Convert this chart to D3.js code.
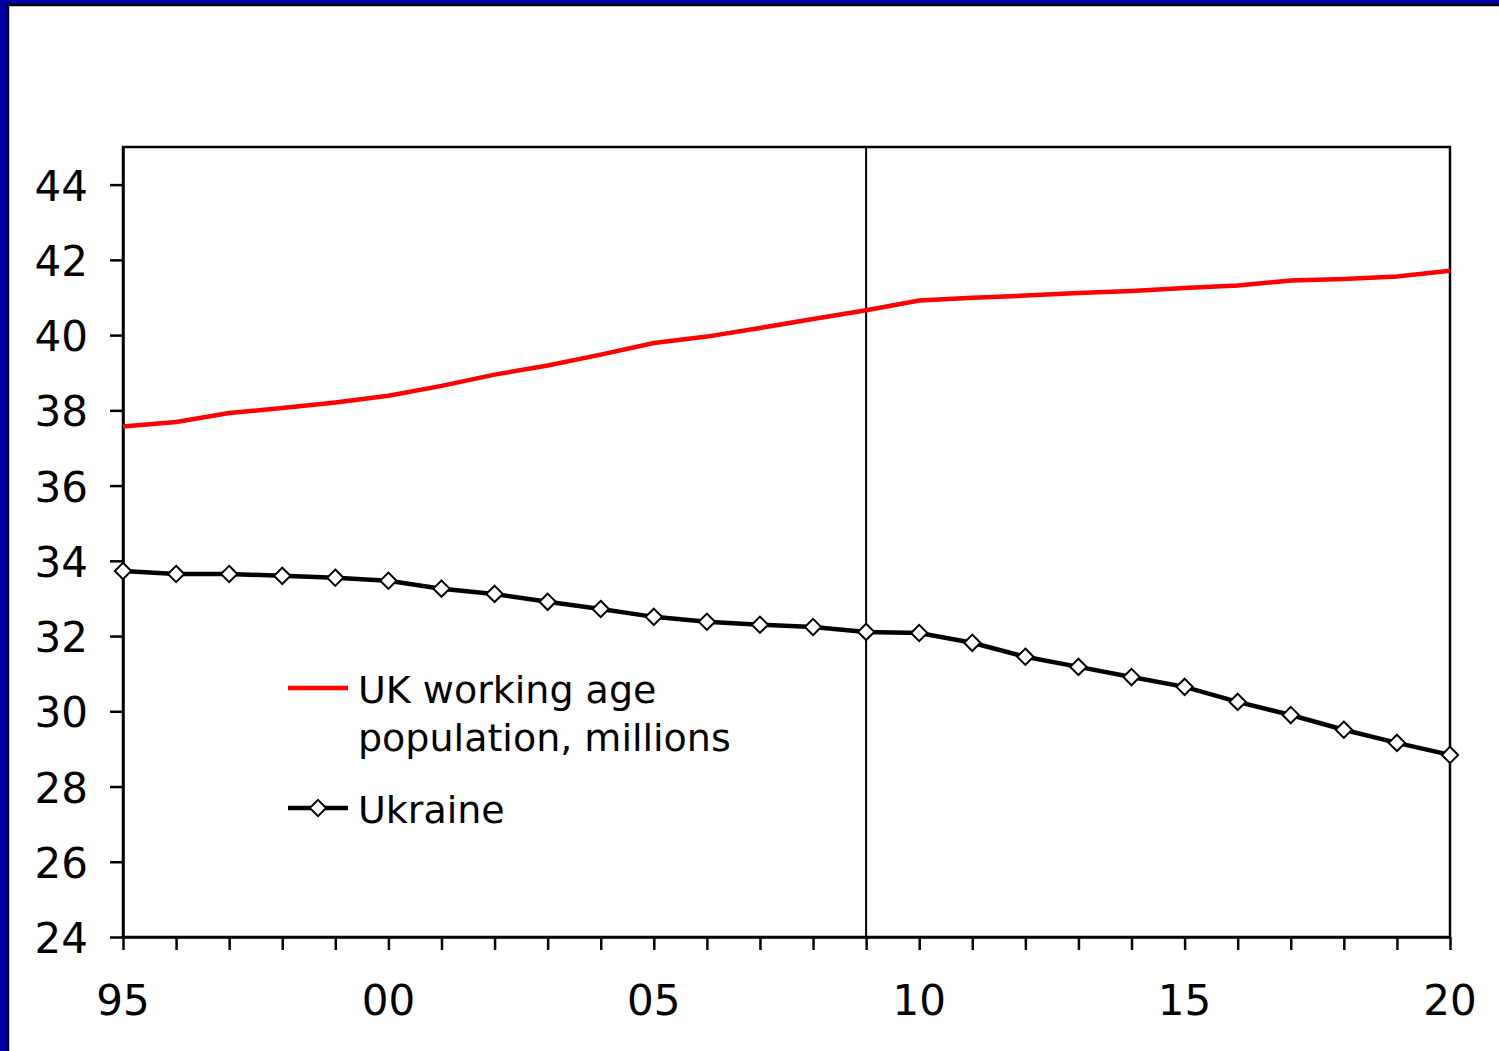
<!doctype html>
<html>
<head>
	<script src="https://d3js.org/d3.v7.min.js"></script>
	<style>
		body { margin: 0; background: #fff; }
		svg text { font-family: "DejaVu Sans", sans-serif; fill: #000; }
	</style>
</head>
<body>
	<svg id="chart" width="1499" height="1051"></svg>
	<script>

		var years = d3.range(1995, 2021);
		var tickLabels = ["95", "00", "05", "10", "15", "20"];
		var yTicks = [24, 26, 28, 30, 32, 34, 36, 38, 40, 42, 44];

		var ukWorking = [37.57, 37.69, 37.93, 38.06, 38.21, 38.39, 38.65, 38.95, 39.19, 39.48,
		                 39.79, 39.96, 40.19, 40.43, 40.66, 40.92, 40.99, 41.05, 41.12, 41.17,
		                 41.25, 41.32, 41.45, 41.49, 41.56, 41.71];
		var ukraine = [33.73, 33.65, 33.65, 33.60, 33.55, 33.47, 33.26, 33.12, 32.91, 32.72,
		               32.51, 32.38, 32.30, 32.24, 32.11, 32.08, 31.82, 31.45, 31.18, 30.91,
		               30.65, 30.25, 29.90, 29.51, 29.16, 28.84];
		var markerYear = 2009;

		var svg = d3.select("#chart");

		// slide frame
		svg.append("rect").attr("x", 0).attr("y", 0).attr("width", 1499).attr("height", 1051)
			.attr("fill", "#0000a0");
		svg.append("rect").attr("x", 8).attr("y", 5).attr("width", 1520).attr("height", 1080)
			.attr("fill", "#fff").attr("stroke", "#000").attr("stroke-width", 2.5);

		var margin = {top: 147, right: 49, bottom: 114, left: 123};
		var width = 1499 - margin.left - margin.right;
		var height = 1051 - margin.top - margin.bottom;

		var xScale = d3.scaleLinear().domain([1995, 2020]).range([margin.left, margin.left + width]);
		var yScale = d3.scaleLinear().domain([24, 45]).range([margin.top + height, margin.top]);

		// plot frame
		svg.append("rect")
			.attr("x", margin.left).attr("y", margin.top)
			.attr("width", width).attr("height", height)
			.attr("fill", "none").attr("stroke", "#000").attr("stroke-width", 2.5);

		// axes
		var xAxis = d3.axisBottom(xScale).tickValues(years).tickSize(13).tickSizeOuter(0).tickFormat("");
		var yAxis = d3.axisLeft(yScale).tickValues(yTicks).tickSize(13).tickSizeOuter(0).tickFormat("");

		var xg = svg.append("g").attr("transform", "translate(0," + (margin.top + height) + ")").call(xAxis);
		var yg = svg.append("g").attr("transform", "translate(" + margin.left + ",0)").call(yAxis);
		[xg, yg].forEach(g => {
			g.select(".domain").attr("stroke", "#000").attr("stroke-width", 2.5);
			g.selectAll(".tick line").attr("stroke", "#000").attr("stroke-width", 2.5);
		});

		svg.append("g").selectAll("text")
			.data(tickLabels)
			.enter().append("text")
				.attr("x", (d, i) => xScale(1995 + i * 5))
				.attr("y", 1015)
				.attr("text-anchor", "middle")
				.attr("font-size", 42)
				.text(d => d);

		svg.append("g").selectAll("text")
			.data(yTicks)
			.enter().append("text")
				.attr("x", 88)
				.attr("y", d => yScale(d) + 16)
				.attr("text-anchor", "end")
				.attr("font-size", 42)
				.text(d => d);

		// vertical marker line
		svg.append("line")
			.attr("x1", xScale(markerYear)).attr("x2", xScale(markerYear))
			.attr("y1", margin.top).attr("y2", margin.top + height)
			.attr("stroke", "#000").attr("stroke-width", 2);

		var line = d3.line()
			.x((d, i) => xScale(years[i]))
			.y(d => yScale(d));

		svg.append("path").datum(ukWorking)
			.attr("d", line).attr("fill", "none")
			.attr("stroke", "#ff0000").attr("stroke-width", 4.5);

		svg.append("path").datum(ukraine)
			.attr("d", line).attr("fill", "none")
			.attr("stroke", "#000").attr("stroke-width", 4.5);

		var diamond = d3.symbol().type(d3.symbolDiamond2).size(170);

		svg.append("g").selectAll("path")
			.data(ukraine)
			.enter().append("path")
				.attr("d", diamond)
				.attr("transform", (d, i) => "translate(" + xScale(years[i]) + "," + yScale(d) + ")")
				.attr("fill", "#fff").attr("stroke", "#000").attr("stroke-width", 2);

		// legend
		var legend = svg.append("g");
		legend.append("line").attr("x1", 288).attr("x2", 348).attr("y1", 688).attr("y2", 688)
			.attr("stroke", "#ff0000").attr("stroke-width", 4.5);
		legend.append("text").attr("x", 358).attr("y", 703).attr("font-size", 38).text("UK working age");
		legend.append("text").attr("x", 358).attr("y", 751).attr("font-size", 38).text("population, millions");

		legend.append("line").attr("x1", 288).attr("x2", 348).attr("y1", 808).attr("y2", 808)
			.attr("stroke", "#000").attr("stroke-width", 4.5);
		legend.append("path").attr("d", diamond)
			.attr("transform", "translate(318,808)")
			.attr("fill", "#fff").attr("stroke", "#000").attr("stroke-width", 2);
		legend.append("text").attr("x", 358).attr("y", 823).attr("font-size", 38).text("Ukraine");

	</script>
</body>
</html>
